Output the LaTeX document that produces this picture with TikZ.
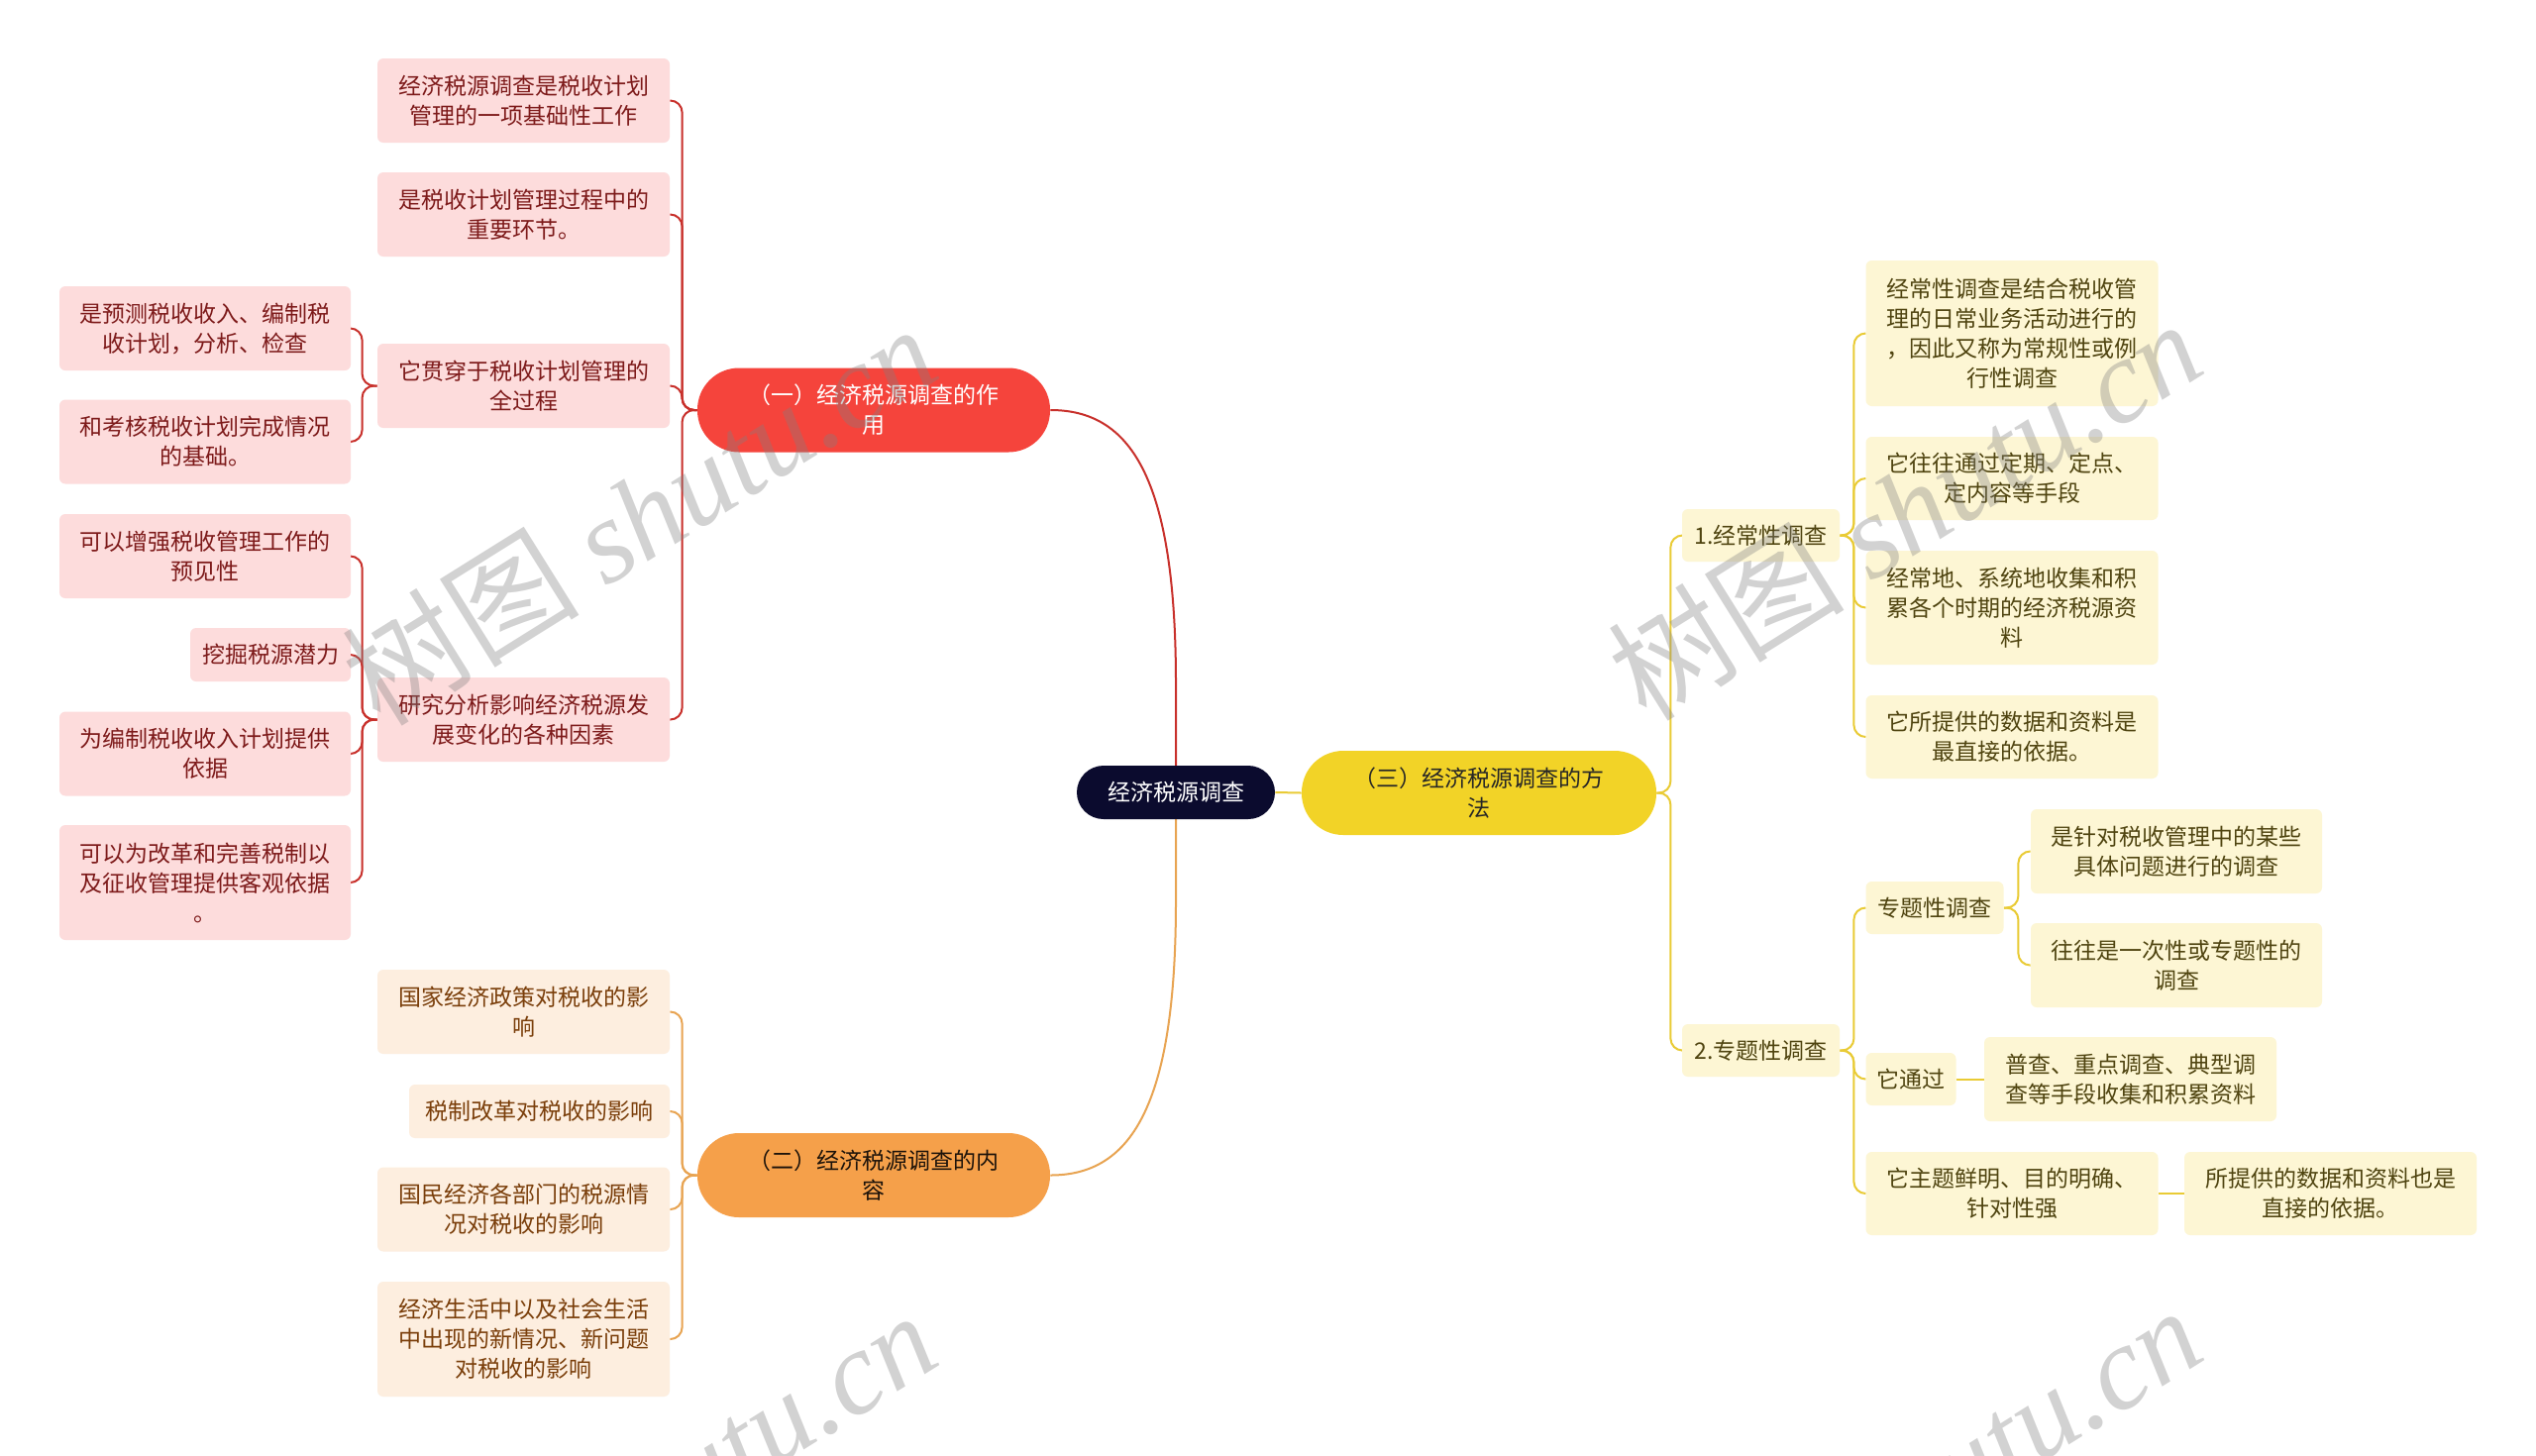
\documentclass[tikz,border=0pt]{standalone}
\usepackage{fontspec}
\setmainfont{Noto Sans CJK SC}
\newfontfamily\cjk{Noto Sans CJK SC}
\newfontfamily\wmserif{Liberation Serif}
\usetikzlibrary{backgrounds}
\definecolor{redfill}{HTML}{FDDCDC}
\definecolor{redtext}{HTML}{7D1A1A}
\definecolor{redmain}{HTML}{F5443C}
\definecolor{redline}{HTML}{C8302B}
\definecolor{orfill}{HTML}{FDEEDF}
\definecolor{ortext}{HTML}{7A3E0A}
\definecolor{ormain}{HTML}{F5A04A}
\definecolor{orline}{HTML}{E8A452}
\definecolor{yefill}{HTML}{FDF6D4}
\definecolor{yetext}{HTML}{4F4410}
\definecolor{yemain}{HTML}{F2D327}
\definecolor{yeline}{HTML}{E9CB35}
\definecolor{navy}{HTML}{0B0B2E}
\newcommand\nd[6]{\node[#1,minimum width=#4*0.5pt,minimum height=#5*0.5pt] (#2) at (#3) {#6};}
\begin{document}
\begin{tikzpicture}[x=0.5pt,y=-0.5pt,
  font=\cjk\fontsize{11.5pt}{15pt}\selectfont,
  boxbase/.style={rectangle,rounded corners=3pt,inner sep=0pt,align=center},
  redc/.style={boxbase,fill=redfill,text=redtext},
  orc/.style={boxbase,fill=orfill,text=ortext},
  yec/.style={boxbase,fill=yefill,text=yetext},
  pillbase/.style={rectangle,rounded corners=21pt,inner sep=0pt,align=center},
  pillR/.style={pillbase,fill=redmain,text=white},
  pillO/.style={pillbase,fill=ormain,text=black!85!brown},
  pillY/.style={pillbase,fill=yemain,text=black!85},
  pillC/.style={rectangle,rounded corners=13.5pt,inner sep=0pt,align=center,fill=navy,text=white},
  lnR/.style={draw=redline,line width=1pt},
  lnO/.style={draw=orline,line width=1pt},
  lnY/.style={draw=yeline,line width=1pt},
  wm/.style={text=black!50,opacity=0.35,inner sep=0pt,rotate=32,font=\cjk\fontsize{60pt}{64pt}\selectfont}
]
\useasboundingbox (0,0) rectangle (2560,1469);

% central and main branches
\nd{pillC}{C}{1187,800}{200}{54}{经济税源调查}
\nd{pillR}{R}{882,414}{356}{85}{（一）经济税源调查的作\\用}
\nd{pillO}{O}{882,1186.5}{356}{85}{（二）经济税源调查的内\\容}
\nd{pillY}{Y}{1493,800.5}{358}{85}{（三）经济税源调查的方\\法}

% red branch
\nd{redc}{r1}{528.5,101.5}{295}{85}{经济税源调查是税收计划\\管理的一项基础性工作}
\nd{redc}{r2}{528.5,216.5}{295}{85}{是税收计划管理过程中的\\重要环节。}
\nd{redc}{r3}{528.5,389.5}{295}{85}{它贯穿于税收计划管理的\\全过程}
\nd{redc}{r4}{528.5,726.5}{295}{85}{研究分析影响经济税源发\\展变化的各种因素}
\nd{redc}{r31}{207,331.5}{294}{85}{是预测税收收入、编制税\\收计划，分析、检查}
\nd{redc}{r32}{207,446}{294}{85}{和考核税收计划完成情况\\的基础。}
\nd{redc}{r41}{207,561.5}{294}{85}{可以增强税收管理工作的\\预见性}
\nd{redc}{r42}{273,661}{162}{54}{挖掘税源潜力}
\nd{redc}{r43}{207,761}{294}{85}{为编制税收收入计划提供\\依据}
\nd{redc}{r44}{207,891}{294}{116}{可以为改革和完善税制以\\及征收管理提供客观依据\\。}

% orange branch
\nd{orc}{o1}{528.5,1021.5}{295}{85}{国家经济政策对税收的影\\响}
\nd{orc}{o2}{544.5,1122}{263}{54}{税制改革对税收的影响}
\nd{orc}{o3}{528.5,1221}{295}{85}{国民经济各部门的税源情\\况对税收的影响}
\nd{orc}{o4}{528.5,1352}{295}{116}{经济生活中以及社会生活\\中出现的新情况、新问题\\对税收的影响}

% yellow branch
\nd{yec}{y1}{1777.5,540.5}{159}{53}{1.经常性调查}
\nd{yec}{y11}{2031,336.5}{295}{147}{经常性调查是结合税收管\\理的日常业务活动进行的\\，因此又称为常规性或例\\行性调查}
\nd{yec}{y12}{2031,483}{295}{84}{它往往通过定期、定点、\\定内容等手段}
\nd{yec}{y13}{2031,613.5}{295}{115}{经常地、系统地收集和积\\累各个时期的经济税源资\\料}
\nd{yec}{y14}{2031,744}{295}{84}{它所提供的数据和资料是\\最直接的依据。}
\nd{yec}{y2}{1777.5,1060.5}{159}{53}{2.专题性调查}
\nd{yec}{z1}{1953,916.5}{139}{53}{专题性调查}
\nd{yec}{z11}{2197,859.5}{294}{85}{是针对税收管理中的某些\\具体问题进行的调查}
\nd{yec}{z12}{2197,974.5}{294}{85}{往往是一次性或专题性的\\调查}
\nd{yec}{z2}{1929,1089.5}{91}{53}{它通过}
\nd{yec}{z21}{2150.5,1089.5}{295}{85}{普查、重点调查、典型调\\查等手段收集和积累资料}
\nd{yec}{z3}{2031,1205}{295}{84}{它主题鲜明、目的明确、\\针对性强}
\nd{yec}{z31}{2352.5,1205}{295}{84}{所提供的数据和资料也是\\直接的依据。}

\begin{scope}[on background layer]
  \fill[white] (0,0) rectangle (2560,1469);
  \draw[lnR] (C.center) -- (1187,690) .. controls (1187,480) and (1140,414) .. (R.east);
  \draw[lnO] (C.center) -- (1187,910) .. controls (1187,1120) and (1140,1186.5) .. (O.east);
  \draw[lnY] (C.east) -- (Y.west);
  \foreach \n in {r1,r2,r3,r4} \draw[lnR,rounded corners=6pt] (R.west) -- ++(-15,0) |- (\n.east);
  \foreach \n in {r31,r32} \draw[lnR,rounded corners=6pt] (r3.west) -- ++(-15,0) |- (\n.east);
  \foreach \n in {r41,r42,r43,r44} \draw[lnR,rounded corners=6pt] (r4.west) -- ++(-15,0) |- (\n.east);
  \foreach \n in {o1,o2,o3,o4} \draw[lnO,rounded corners=6pt] (O.west) -- ++(-15,0) |- (\n.east);
  \foreach \n in {y1,y2} \draw[lnY,rounded corners=6pt] (Y.east) -- ++(14,0) |- (\n.west);
  \foreach \n in {y11,y12,y13,y14} \draw[lnY,rounded corners=6pt] (y1.east) -- ++(14,0) |- (\n.west);
  \foreach \n in {z1,z2,z3} \draw[lnY,rounded corners=6pt] (y2.east) -- ++(14,0) |- (\n.west);
  \foreach \n in {z11,z12} \draw[lnY,rounded corners=6pt] (z1.east) -- ++(14.5,0) |- (\n.west);
  \draw[lnY] (z2.east) -- (z21.west);
  \draw[lnY] (z3.east) -- (z31.west);
\end{scope}

% watermarks
\begin{scope}
  \clip (0,0) rectangle (2560,1469);
  \node[wm] (wm1) at (645,519) {树图 {\wmserif\itshape shutu.cn}};
  \node[wm] (wm2) at (1922,514) {树图 {\wmserif\itshape shutu.cn}};
  \node[wm] (wm3) at (645,1515) {树图 {\wmserif\itshape shutu.cn}};
  \node[wm] (wm4) at (1922,1510) {树图 {\wmserif\itshape shutu.cn}};
\end{scope}
\end{tikzpicture}
\end{document}
